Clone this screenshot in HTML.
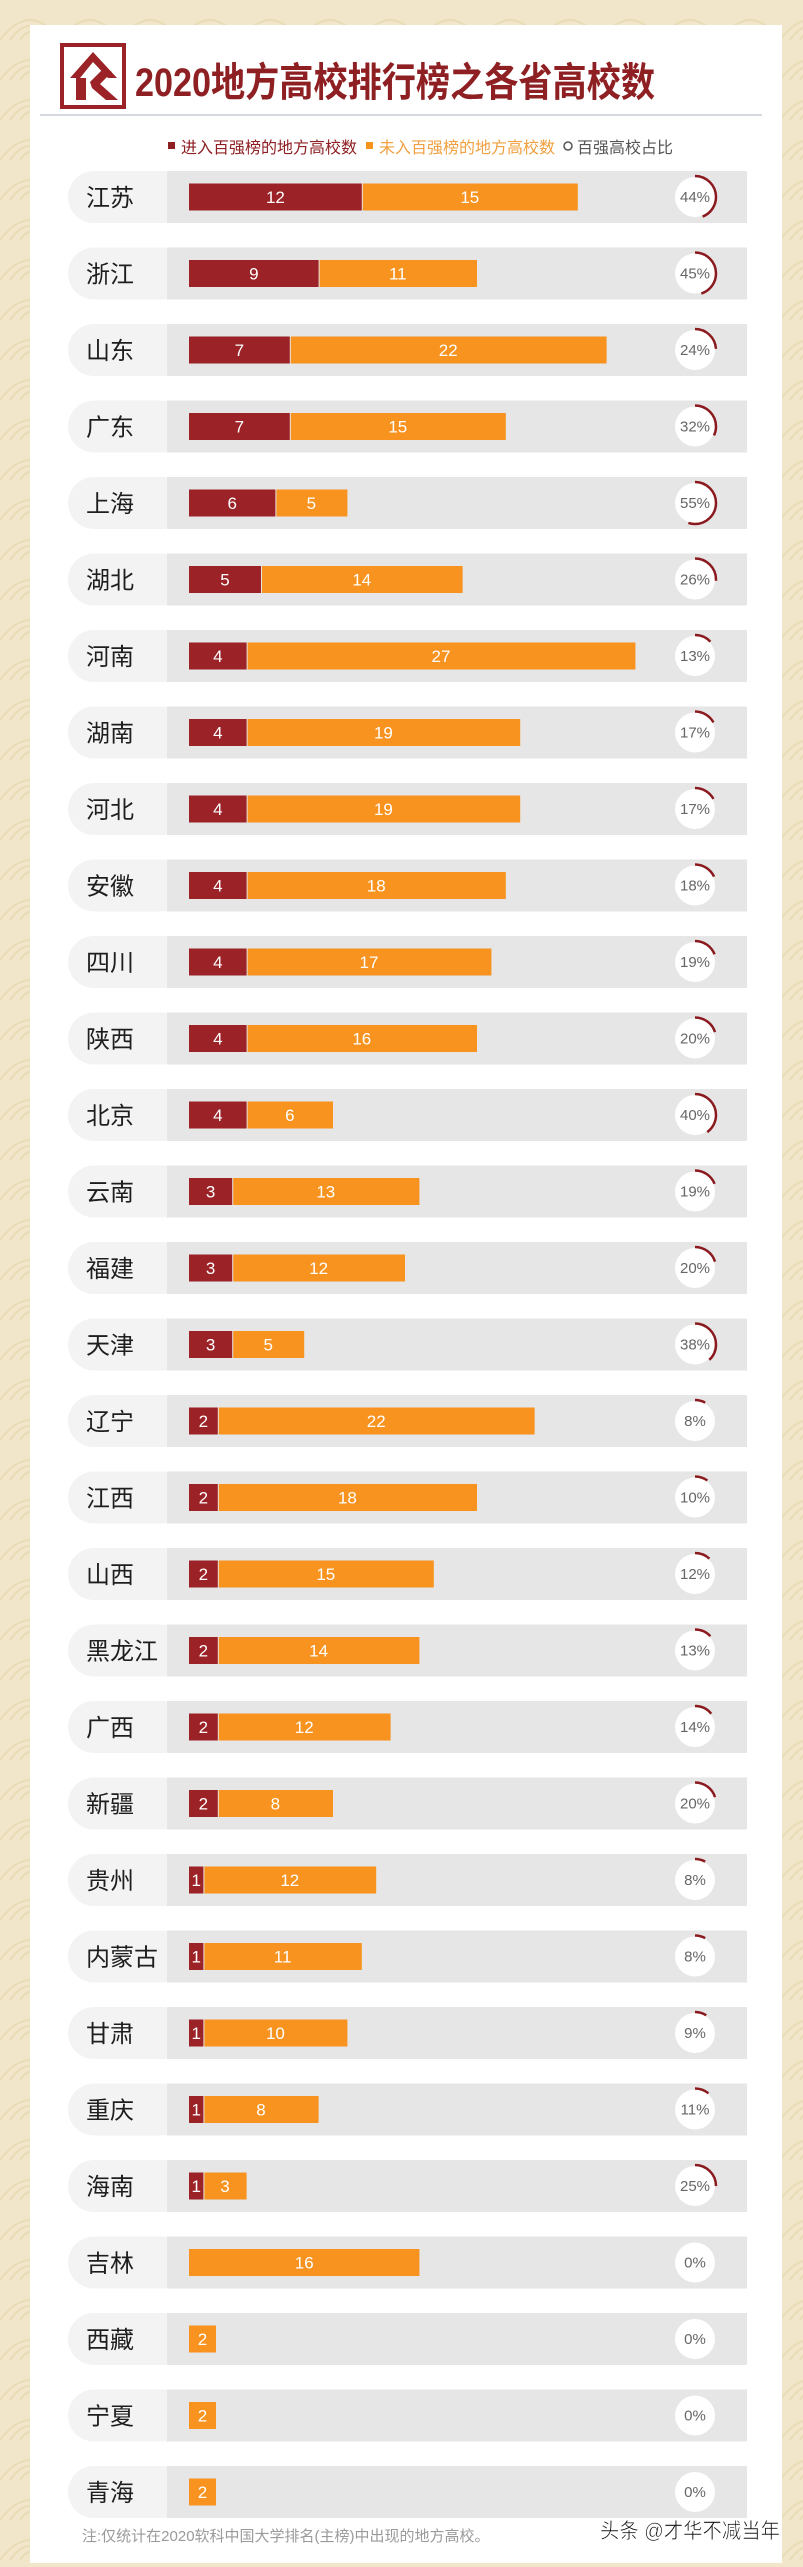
<!DOCTYPE html>
<html><head><meta charset="utf-8"><style>
html,body{margin:0;padding:0;background:#f1e6c9;}
svg{display:block}
text{font-family:"Liberation Sans","Noto Sans CJK SC",sans-serif}
.lb{font-size:24px;fill:#1e1e1e}
.bv{font-size:17px;fill:#fff;text-anchor:middle}
.pc{font-size:15px;fill:#666;text-anchor:middle}
.pl{fill:#f3f3f3}
.bg{fill:#e6e6e6}
.r{fill:#9b2226}
.o{fill:#f7931e}
.cw{fill:#fff}
.ar{fill:none;stroke:#8b1a1f;stroke-width:2.5}
</style></head><body>
<svg width="803" height="2567" viewBox="0 0 803 2567" xmlns="http://www.w3.org/2000/svg">
<defs>
<pattern id="wv" width="60" height="40" patternUnits="userSpaceOnUse">
<path d="M0 40 Q30 0 60 40 M10 40 Q30 12 50 40 M20 40 Q30 24 40 40" fill="none" stroke="#e6d6ae" stroke-width="2"/>
</pattern>
</defs>
<rect width="803" height="2567" fill="#f1e6c9"/>
<rect width="803" height="2567" fill="url(#wv)" opacity="0.7"/>
<rect x="30" y="25" width="752" height="2538" fill="#fff"/>
<!-- logo -->
<rect x="62" y="45" width="62" height="62" fill="none" stroke="#9b2226" stroke-width="4"/>
<polygon points="70,78 93,52 117,78 108,78 93,62 80,78" fill="#9b2226"/>
<polygon points="76,78 86,78 86,100 76,100" fill="#9b2226"/>
<polygon points="90,82 104,68 112,72 100,84 118,100 106,100 92,88" fill="#9b2226"/>
<text x="135" y="96" font-size="40" font-weight="bold" fill="#8e1f22" textLength="520" lengthAdjust="spacingAndGlyphs">2020地方高校排行榜之各省高校数</text>
<line x1="40" y1="115" x2="762" y2="115" stroke="#c8ccd8" stroke-width="1.5"/>
<!-- legend -->
<rect x="168" y="142" width="7" height="7" fill="#8e1f22"/>
<text x="181" y="153" font-size="16" fill="#8e1f22">进入百强榜的地方高校数</text>
<rect x="366" y="142" width="7" height="7" fill="#f7931e"/>
<text x="379" y="153" font-size="16" fill="#f0a040">未入百强榜的地方高校数</text>
<circle cx="568" cy="146" r="4" fill="none" stroke="#555" stroke-width="1.5"/>
<text x="577" y="153" font-size="16" fill="#555">百强高校占比</text>

<g transform="translate(0,197)"><rect class="pl" x="68" y="-26" width="120" height="52" rx="26"/><rect class="bg" x="167" y="-26" width="580" height="52"/><text class="lb" x="86" y="9">江苏</text><rect class="r" x="189" y="-13.5" width="172.8" height="27"/><rect class="o" x="362.8" y="-13.5" width="215" height="27"/><text class="bv" x="275.4" y="6">12</text><text class="bv" x="469.8" y="6">15</text><circle class="cw" cx="695" cy="0" r="20"/><circle class="ar" cx="695" cy="0" r="21" stroke-dasharray="58.1 200" transform="rotate(-90 695 0)"/><text class="pc" x="695" y="5">44%</text></g>
<g transform="translate(0,273.5)"><rect class="pl" x="68" y="-26" width="120" height="52" rx="26"/><rect class="bg" x="167" y="-26" width="580" height="52"/><text class="lb" x="86" y="9">浙江</text><rect class="r" x="189" y="-13.5" width="129.6" height="27"/><rect class="o" x="319.6" y="-13.5" width="157.4" height="27"/><text class="bv" x="253.8" y="6">9</text><text class="bv" x="397.8" y="6">11</text><circle class="cw" cx="695" cy="0" r="20"/><circle class="ar" cx="695" cy="0" r="21" stroke-dasharray="59.4 200" transform="rotate(-90 695 0)"/><text class="pc" x="695" y="5">45%</text></g>
<g transform="translate(0,350)"><rect class="pl" x="68" y="-26" width="120" height="52" rx="26"/><rect class="bg" x="167" y="-26" width="580" height="52"/><text class="lb" x="86" y="9">山东</text><rect class="r" x="189" y="-13.5" width="100.8" height="27"/><rect class="o" x="290.8" y="-13.5" width="315.8" height="27"/><text class="bv" x="239.4" y="6">7</text><text class="bv" x="448.2" y="6">22</text><circle class="cw" cx="695" cy="0" r="20"/><circle class="ar" cx="695" cy="0" r="21" stroke-dasharray="31.7 200" transform="rotate(-90 695 0)"/><text class="pc" x="695" y="5">24%</text></g>
<g transform="translate(0,426.5)"><rect class="pl" x="68" y="-26" width="120" height="52" rx="26"/><rect class="bg" x="167" y="-26" width="580" height="52"/><text class="lb" x="86" y="9">广东</text><rect class="r" x="189" y="-13.5" width="100.8" height="27"/><rect class="o" x="290.8" y="-13.5" width="215" height="27"/><text class="bv" x="239.4" y="6">7</text><text class="bv" x="397.8" y="6">15</text><circle class="cw" cx="695" cy="0" r="20"/><circle class="ar" cx="695" cy="0" r="21" stroke-dasharray="42.2 200" transform="rotate(-90 695 0)"/><text class="pc" x="695" y="5">32%</text></g>
<g transform="translate(0,503)"><rect class="pl" x="68" y="-26" width="120" height="52" rx="26"/><rect class="bg" x="167" y="-26" width="580" height="52"/><text class="lb" x="86" y="9">上海</text><rect class="r" x="189" y="-13.5" width="86.4" height="27"/><rect class="o" x="276.4" y="-13.5" width="71" height="27"/><text class="bv" x="232.2" y="6">6</text><text class="bv" x="311.4" y="6">5</text><circle class="cw" cx="695" cy="0" r="20"/><circle class="ar" cx="695" cy="0" r="21" stroke-dasharray="72.6 200" transform="rotate(-90 695 0)"/><text class="pc" x="695" y="5">55%</text></g>
<g transform="translate(0,579.5)"><rect class="pl" x="68" y="-26" width="120" height="52" rx="26"/><rect class="bg" x="167" y="-26" width="580" height="52"/><text class="lb" x="86" y="9">湖北</text><rect class="r" x="189" y="-13.5" width="72" height="27"/><rect class="o" x="262" y="-13.5" width="200.6" height="27"/><text class="bv" x="225" y="6">5</text><text class="bv" x="361.8" y="6">14</text><circle class="cw" cx="695" cy="0" r="20"/><circle class="ar" cx="695" cy="0" r="21" stroke-dasharray="34.3 200" transform="rotate(-90 695 0)"/><text class="pc" x="695" y="5">26%</text></g>
<g transform="translate(0,656)"><rect class="pl" x="68" y="-26" width="120" height="52" rx="26"/><rect class="bg" x="167" y="-26" width="580" height="52"/><text class="lb" x="86" y="9">河南</text><rect class="r" x="189" y="-13.5" width="57.6" height="27"/><rect class="o" x="247.6" y="-13.5" width="387.8" height="27"/><text class="bv" x="217.8" y="6">4</text><text class="bv" x="441" y="6">27</text><circle class="cw" cx="695" cy="0" r="20"/><circle class="ar" cx="695" cy="0" r="21" stroke-dasharray="17.2 200" transform="rotate(-90 695 0)"/><text class="pc" x="695" y="5">13%</text></g>
<g transform="translate(0,732.5)"><rect class="pl" x="68" y="-26" width="120" height="52" rx="26"/><rect class="bg" x="167" y="-26" width="580" height="52"/><text class="lb" x="86" y="9">湖南</text><rect class="r" x="189" y="-13.5" width="57.6" height="27"/><rect class="o" x="247.6" y="-13.5" width="272.6" height="27"/><text class="bv" x="217.8" y="6">4</text><text class="bv" x="383.4" y="6">19</text><circle class="cw" cx="695" cy="0" r="20"/><circle class="ar" cx="695" cy="0" r="21" stroke-dasharray="22.4 200" transform="rotate(-90 695 0)"/><text class="pc" x="695" y="5">17%</text></g>
<g transform="translate(0,809)"><rect class="pl" x="68" y="-26" width="120" height="52" rx="26"/><rect class="bg" x="167" y="-26" width="580" height="52"/><text class="lb" x="86" y="9">河北</text><rect class="r" x="189" y="-13.5" width="57.6" height="27"/><rect class="o" x="247.6" y="-13.5" width="272.6" height="27"/><text class="bv" x="217.8" y="6">4</text><text class="bv" x="383.4" y="6">19</text><circle class="cw" cx="695" cy="0" r="20"/><circle class="ar" cx="695" cy="0" r="21" stroke-dasharray="22.4 200" transform="rotate(-90 695 0)"/><text class="pc" x="695" y="5">17%</text></g>
<g transform="translate(0,885.5)"><rect class="pl" x="68" y="-26" width="120" height="52" rx="26"/><rect class="bg" x="167" y="-26" width="580" height="52"/><text class="lb" x="86" y="9">安徽</text><rect class="r" x="189" y="-13.5" width="57.6" height="27"/><rect class="o" x="247.6" y="-13.5" width="258.2" height="27"/><text class="bv" x="217.8" y="6">4</text><text class="bv" x="376.2" y="6">18</text><circle class="cw" cx="695" cy="0" r="20"/><circle class="ar" cx="695" cy="0" r="21" stroke-dasharray="23.8 200" transform="rotate(-90 695 0)"/><text class="pc" x="695" y="5">18%</text></g>
<g transform="translate(0,962)"><rect class="pl" x="68" y="-26" width="120" height="52" rx="26"/><rect class="bg" x="167" y="-26" width="580" height="52"/><text class="lb" x="86" y="9">四川</text><rect class="r" x="189" y="-13.5" width="57.6" height="27"/><rect class="o" x="247.6" y="-13.5" width="243.8" height="27"/><text class="bv" x="217.8" y="6">4</text><text class="bv" x="369" y="6">17</text><circle class="cw" cx="695" cy="0" r="20"/><circle class="ar" cx="695" cy="0" r="21" stroke-dasharray="25.1 200" transform="rotate(-90 695 0)"/><text class="pc" x="695" y="5">19%</text></g>
<g transform="translate(0,1038.5)"><rect class="pl" x="68" y="-26" width="120" height="52" rx="26"/><rect class="bg" x="167" y="-26" width="580" height="52"/><text class="lb" x="86" y="9">陕西</text><rect class="r" x="189" y="-13.5" width="57.6" height="27"/><rect class="o" x="247.6" y="-13.5" width="229.4" height="27"/><text class="bv" x="217.8" y="6">4</text><text class="bv" x="361.8" y="6">16</text><circle class="cw" cx="695" cy="0" r="20"/><circle class="ar" cx="695" cy="0" r="21" stroke-dasharray="26.4 200" transform="rotate(-90 695 0)"/><text class="pc" x="695" y="5">20%</text></g>
<g transform="translate(0,1115)"><rect class="pl" x="68" y="-26" width="120" height="52" rx="26"/><rect class="bg" x="167" y="-26" width="580" height="52"/><text class="lb" x="86" y="9">北京</text><rect class="r" x="189" y="-13.5" width="57.6" height="27"/><rect class="o" x="247.6" y="-13.5" width="85.4" height="27"/><text class="bv" x="217.8" y="6">4</text><text class="bv" x="289.8" y="6">6</text><circle class="cw" cx="695" cy="0" r="20"/><circle class="ar" cx="695" cy="0" r="21" stroke-dasharray="52.8 200" transform="rotate(-90 695 0)"/><text class="pc" x="695" y="5">40%</text></g>
<g transform="translate(0,1191.5)"><rect class="pl" x="68" y="-26" width="120" height="52" rx="26"/><rect class="bg" x="167" y="-26" width="580" height="52"/><text class="lb" x="86" y="9">云南</text><rect class="r" x="189" y="-13.5" width="43.2" height="27"/><rect class="o" x="233.2" y="-13.5" width="186.2" height="27"/><text class="bv" x="210.6" y="6">3</text><text class="bv" x="325.8" y="6">13</text><circle class="cw" cx="695" cy="0" r="20"/><circle class="ar" cx="695" cy="0" r="21" stroke-dasharray="25.1 200" transform="rotate(-90 695 0)"/><text class="pc" x="695" y="5">19%</text></g>
<g transform="translate(0,1268)"><rect class="pl" x="68" y="-26" width="120" height="52" rx="26"/><rect class="bg" x="167" y="-26" width="580" height="52"/><text class="lb" x="86" y="9">福建</text><rect class="r" x="189" y="-13.5" width="43.2" height="27"/><rect class="o" x="233.2" y="-13.5" width="171.8" height="27"/><text class="bv" x="210.6" y="6">3</text><text class="bv" x="318.6" y="6">12</text><circle class="cw" cx="695" cy="0" r="20"/><circle class="ar" cx="695" cy="0" r="21" stroke-dasharray="26.4 200" transform="rotate(-90 695 0)"/><text class="pc" x="695" y="5">20%</text></g>
<g transform="translate(0,1344.5)"><rect class="pl" x="68" y="-26" width="120" height="52" rx="26"/><rect class="bg" x="167" y="-26" width="580" height="52"/><text class="lb" x="86" y="9">天津</text><rect class="r" x="189" y="-13.5" width="43.2" height="27"/><rect class="o" x="233.2" y="-13.5" width="71" height="27"/><text class="bv" x="210.6" y="6">3</text><text class="bv" x="268.2" y="6">5</text><circle class="cw" cx="695" cy="0" r="20"/><circle class="ar" cx="695" cy="0" r="21" stroke-dasharray="50.1 200" transform="rotate(-90 695 0)"/><text class="pc" x="695" y="5">38%</text></g>
<g transform="translate(0,1421)"><rect class="pl" x="68" y="-26" width="120" height="52" rx="26"/><rect class="bg" x="167" y="-26" width="580" height="52"/><text class="lb" x="86" y="9">辽宁</text><rect class="r" x="189" y="-13.5" width="28.8" height="27"/><rect class="o" x="218.8" y="-13.5" width="315.8" height="27"/><text class="bv" x="203.4" y="6">2</text><text class="bv" x="376.2" y="6">22</text><circle class="cw" cx="695" cy="0" r="20"/><circle class="ar" cx="695" cy="0" r="21" stroke-dasharray="10.6 200" transform="rotate(-90 695 0)"/><text class="pc" x="695" y="5">8%</text></g>
<g transform="translate(0,1497.5)"><rect class="pl" x="68" y="-26" width="120" height="52" rx="26"/><rect class="bg" x="167" y="-26" width="580" height="52"/><text class="lb" x="86" y="9">江西</text><rect class="r" x="189" y="-13.5" width="28.8" height="27"/><rect class="o" x="218.8" y="-13.5" width="258.2" height="27"/><text class="bv" x="203.4" y="6">2</text><text class="bv" x="347.4" y="6">18</text><circle class="cw" cx="695" cy="0" r="20"/><circle class="ar" cx="695" cy="0" r="21" stroke-dasharray="13.2 200" transform="rotate(-90 695 0)"/><text class="pc" x="695" y="5">10%</text></g>
<g transform="translate(0,1574)"><rect class="pl" x="68" y="-26" width="120" height="52" rx="26"/><rect class="bg" x="167" y="-26" width="580" height="52"/><text class="lb" x="86" y="9">山西</text><rect class="r" x="189" y="-13.5" width="28.8" height="27"/><rect class="o" x="218.8" y="-13.5" width="215" height="27"/><text class="bv" x="203.4" y="6">2</text><text class="bv" x="325.8" y="6">15</text><circle class="cw" cx="695" cy="0" r="20"/><circle class="ar" cx="695" cy="0" r="21" stroke-dasharray="15.8 200" transform="rotate(-90 695 0)"/><text class="pc" x="695" y="5">12%</text></g>
<g transform="translate(0,1650.5)"><rect class="pl" x="68" y="-26" width="120" height="52" rx="26"/><rect class="bg" x="167" y="-26" width="580" height="52"/><text class="lb" x="86" y="9">黑龙江</text><rect class="r" x="189" y="-13.5" width="28.8" height="27"/><rect class="o" x="218.8" y="-13.5" width="200.6" height="27"/><text class="bv" x="203.4" y="6">2</text><text class="bv" x="318.6" y="6">14</text><circle class="cw" cx="695" cy="0" r="20"/><circle class="ar" cx="695" cy="0" r="21" stroke-dasharray="17.2 200" transform="rotate(-90 695 0)"/><text class="pc" x="695" y="5">13%</text></g>
<g transform="translate(0,1727)"><rect class="pl" x="68" y="-26" width="120" height="52" rx="26"/><rect class="bg" x="167" y="-26" width="580" height="52"/><text class="lb" x="86" y="9">广西</text><rect class="r" x="189" y="-13.5" width="28.8" height="27"/><rect class="o" x="218.8" y="-13.5" width="171.8" height="27"/><text class="bv" x="203.4" y="6">2</text><text class="bv" x="304.2" y="6">12</text><circle class="cw" cx="695" cy="0" r="20"/><circle class="ar" cx="695" cy="0" r="21" stroke-dasharray="18.5 200" transform="rotate(-90 695 0)"/><text class="pc" x="695" y="5">14%</text></g>
<g transform="translate(0,1803.5)"><rect class="pl" x="68" y="-26" width="120" height="52" rx="26"/><rect class="bg" x="167" y="-26" width="580" height="52"/><text class="lb" x="86" y="9">新疆</text><rect class="r" x="189" y="-13.5" width="28.8" height="27"/><rect class="o" x="218.8" y="-13.5" width="114.2" height="27"/><text class="bv" x="203.4" y="6">2</text><text class="bv" x="275.4" y="6">8</text><circle class="cw" cx="695" cy="0" r="20"/><circle class="ar" cx="695" cy="0" r="21" stroke-dasharray="26.4 200" transform="rotate(-90 695 0)"/><text class="pc" x="695" y="5">20%</text></g>
<g transform="translate(0,1880)"><rect class="pl" x="68" y="-26" width="120" height="52" rx="26"/><rect class="bg" x="167" y="-26" width="580" height="52"/><text class="lb" x="86" y="9">贵州</text><rect class="r" x="189" y="-13.5" width="14.4" height="27"/><rect class="o" x="204.4" y="-13.5" width="171.8" height="27"/><text class="bv" x="196.2" y="6">1</text><text class="bv" x="289.8" y="6">12</text><circle class="cw" cx="695" cy="0" r="20"/><circle class="ar" cx="695" cy="0" r="21" stroke-dasharray="10.6 200" transform="rotate(-90 695 0)"/><text class="pc" x="695" y="5">8%</text></g>
<g transform="translate(0,1956.5)"><rect class="pl" x="68" y="-26" width="120" height="52" rx="26"/><rect class="bg" x="167" y="-26" width="580" height="52"/><text class="lb" x="86" y="9">内蒙古</text><rect class="r" x="189" y="-13.5" width="14.4" height="27"/><rect class="o" x="204.4" y="-13.5" width="157.4" height="27"/><text class="bv" x="196.2" y="6">1</text><text class="bv" x="282.6" y="6">11</text><circle class="cw" cx="695" cy="0" r="20"/><circle class="ar" cx="695" cy="0" r="21" stroke-dasharray="10.6 200" transform="rotate(-90 695 0)"/><text class="pc" x="695" y="5">8%</text></g>
<g transform="translate(0,2033)"><rect class="pl" x="68" y="-26" width="120" height="52" rx="26"/><rect class="bg" x="167" y="-26" width="580" height="52"/><text class="lb" x="86" y="9">甘肃</text><rect class="r" x="189" y="-13.5" width="14.4" height="27"/><rect class="o" x="204.4" y="-13.5" width="143" height="27"/><text class="bv" x="196.2" y="6">1</text><text class="bv" x="275.4" y="6">10</text><circle class="cw" cx="695" cy="0" r="20"/><circle class="ar" cx="695" cy="0" r="21" stroke-dasharray="11.9 200" transform="rotate(-90 695 0)"/><text class="pc" x="695" y="5">9%</text></g>
<g transform="translate(0,2109.5)"><rect class="pl" x="68" y="-26" width="120" height="52" rx="26"/><rect class="bg" x="167" y="-26" width="580" height="52"/><text class="lb" x="86" y="9">重庆</text><rect class="r" x="189" y="-13.5" width="14.4" height="27"/><rect class="o" x="204.4" y="-13.5" width="114.2" height="27"/><text class="bv" x="196.2" y="6">1</text><text class="bv" x="261" y="6">8</text><circle class="cw" cx="695" cy="0" r="20"/><circle class="ar" cx="695" cy="0" r="21" stroke-dasharray="14.5 200" transform="rotate(-90 695 0)"/><text class="pc" x="695" y="5">11%</text></g>
<g transform="translate(0,2186)"><rect class="pl" x="68" y="-26" width="120" height="52" rx="26"/><rect class="bg" x="167" y="-26" width="580" height="52"/><text class="lb" x="86" y="9">海南</text><rect class="r" x="189" y="-13.5" width="14.4" height="27"/><rect class="o" x="204.4" y="-13.5" width="42.2" height="27"/><text class="bv" x="196.2" y="6">1</text><text class="bv" x="225" y="6">3</text><circle class="cw" cx="695" cy="0" r="20"/><circle class="ar" cx="695" cy="0" r="21" stroke-dasharray="33 200" transform="rotate(-90 695 0)"/><text class="pc" x="695" y="5">25%</text></g>
<g transform="translate(0,2262.5)"><rect class="pl" x="68" y="-26" width="120" height="52" rx="26"/><rect class="bg" x="167" y="-26" width="580" height="52"/><text class="lb" x="86" y="9">吉林</text><rect class="o" x="189" y="-13.5" width="230.4" height="27"/><text class="bv" x="304.2" y="6">16</text><circle class="cw" cx="695" cy="0" r="20"/><text class="pc" x="695" y="5">0%</text></g>
<g transform="translate(0,2339)"><rect class="pl" x="68" y="-26" width="120" height="52" rx="26"/><rect class="bg" x="167" y="-26" width="580" height="52"/><text class="lb" x="86" y="9">西藏</text><rect class="o" x="189" y="-13.5" width="27" height="27"/><text class="bv" x="202.5" y="6">2</text><circle class="cw" cx="695" cy="0" r="20"/><text class="pc" x="695" y="5">0%</text></g>
<g transform="translate(0,2415.5)"><rect class="pl" x="68" y="-26" width="120" height="52" rx="26"/><rect class="bg" x="167" y="-26" width="580" height="52"/><text class="lb" x="86" y="9">宁夏</text><rect class="o" x="189" y="-13.5" width="27" height="27"/><text class="bv" x="202.5" y="6">2</text><circle class="cw" cx="695" cy="0" r="20"/><text class="pc" x="695" y="5">0%</text></g>
<g transform="translate(0,2492)"><rect class="pl" x="68" y="-26" width="120" height="52" rx="26"/><rect class="bg" x="167" y="-26" width="580" height="52"/><text class="lb" x="86" y="9">青海</text><rect class="o" x="189" y="-13.5" width="27" height="27"/><text class="bv" x="202.5" y="6">2</text><circle class="cw" cx="695" cy="0" r="20"/><text class="pc" x="695" y="5">0%</text></g>

<text x="82" y="2541" font-size="15" fill="#9a9a9a">注:仅统计在2020软科中国大学排名(主榜)中出现的地方高校。</text>
<text x="600" y="2538" font-size="21" fill="#111" stroke="#fff" stroke-width="0.6" textLength="180" lengthAdjust="spacingAndGlyphs">头条 @才华不减当年</text>
</svg>
</body></html>
